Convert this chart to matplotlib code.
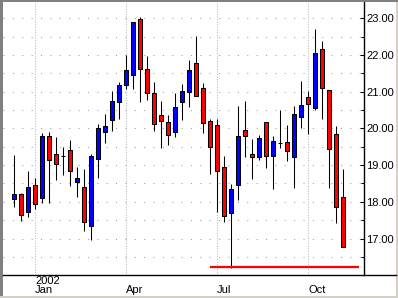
import matplotlib
matplotlib.use("Agg")
import matplotlib.pyplot as plt
from matplotlib.lines import Line2D
from matplotlib.patches import Rectangle
import numpy as np

# weekly prices, 2002
opens = [18.08, 18.20, 17.73, 18.45, 18.11, 19.78, 19.29, 19.24, 19.40, 18.53,
         18.39, 17.35, 19.17, 19.89, 20.24, 20.73, 21.19, 21.44, 22.97, 21.61,
         20.95, 20.35, 20.16, 19.89, 20.71, 20.98, 21.77, 21.09, 20.19, 20.08,
         18.96, 17.70, 18.45, 19.95, 19.29, 19.21, 20.16, 19.24, 19.61, 19.62,
         19.21, 20.30, 20.85, 20.55, 22.15, 21.04, 19.84, 18.12]
highs = [19.27, 18.23, 18.85, 18.64, 19.86, 19.89, 19.76, 19.49, 19.68, 18.95,
         18.89, 19.29, 20.12, 20.39, 21.02, 21.26, 22.00, 22.90, 23.02, 21.97,
         21.25, 20.75, 20.35, 20.96, 21.21, 21.86, 22.52, 21.24, 20.26, 20.25,
         19.25, 18.49, 20.61, 20.75, 19.72, 19.82, 20.16, 19.79, 20.50, 20.09,
         20.61, 21.29, 21.02, 22.70, 22.37, 21.04, 20.06, 18.89]
lows = [17.86, 17.48, 17.59, 17.80, 17.98, 17.98, 18.58, 18.74, 18.44, 18.12,
        17.21, 16.96, 18.65, 19.61, 19.94, 20.26, 21.08, 21.08, 20.73, 20.78,
        19.94, 19.47, 19.55, 19.77, 20.24, 20.59, 20.87, 19.88, 18.76, 17.72,
        17.45, 16.21, 18.05, 19.23, 18.63, 19.13, 18.93, 18.35, 19.47, 19.12,
        18.38, 20.00, 19.85, 20.49, 20.25, 18.38, 17.43, 16.78]
closes = [18.20, 17.65, 18.39, 17.93, 19.78, 19.13, 19.02, 19.24, 18.85, 18.64,
          17.44, 19.24, 20.00, 20.05, 20.74, 21.17, 21.58, 22.89, 21.61, 20.95,
          20.11, 20.19, 19.81, 20.57, 21.02, 21.58, 20.87, 20.14, 19.48, 18.85,
          17.62, 18.34, 19.78, 19.78, 19.21, 19.73, 19.24, 19.65, 19.61, 19.37,
          20.38, 20.63, 20.65, 22.05, 21.09, 19.45, 17.85, 16.78]

quarter_weeks = [3, 16, 29, 42]
quarter_labels = ["2002\nJan", "\nApr", "\nJul", "\nOct"]

support_level = 16.23
support_weeks = [28, 49.2]

plt.rcParams['font.family'] = ['Liberation Sans', 'DejaVu Sans']

W, H = 398, 298
fig = plt.figure(figsize=(W / 100, H / 100), dpi=100)
ax = fig.add_axes([3 / W, 23.5 / H, 361.3 / W, 272.5 / H])

x = np.arange(len(opens))
o = np.array(opens)
c = np.array(closes)
up = c >= o
colors = np.where(up, "#0000ff", "#ff0000")

ax.vlines(x, lows, highs, color="black", linewidth=0.75, zorder=3)
body_h = np.abs(c - o)
body_h = np.where(body_h < 0.01, 0.0, body_h)
ax.bar(x, body_h, bottom=np.minimum(o, c), width=0.62, color=colors,
       edgecolor="black", linewidth=0.75, zorder=4)

ax.hlines(support_level, support_weeks[0], support_weeks[1],
          color="#ff0000", linewidth=1.6, zorder=5)

ax.set_xlim(-1.6, 50.0)
ax.set_ylim(16.02, 23.44)

# grid
for lvl in np.arange(16.5, 23.01, 0.5):
    ax.axhline(lvl, color="#a0a0a0", linewidth=0.75,
               linestyle=(0, (1, 8)), zorder=1)
for q in quarter_weeks:
    ax.axvline(q, color="#b8b8b8", linewidth=0.75,
               linestyle=(0, (1, 1.5)), zorder=1)

ax.yaxis.tick_right()
ax.set_yticks(np.arange(17, 23.01, 1.0))
ax.set_yticks(np.arange(16.5, 23.01, 1.0), minor=True)
ax.yaxis.set_major_formatter(matplotlib.ticker.FormatStrFormatter("%.2f"))
ax.tick_params(axis="y", which="major", direction="in", length=3,
               width=0.75, pad=1.5, labelsize=8, labelcolor="black")
ax.tick_params(axis="y", which="minor", direction="in", length=2, width=0.75)

ax.set_xticks(quarter_weeks, quarter_labels)
ax.tick_params(axis="x", length=0, pad=1.0, labelsize=8)
for lbl in ax.get_xticklabels():
    lbl.set_ha("left")
    lbl.set_linespacing(0.85)

for s in ["left", "top", "bottom"]:
    ax.spines[s].set_visible(False)
ax.spines["right"].set_linewidth(1.0)

# bottom axis line runs the full width, frame round the panel
fig.add_artist(Line2D([3 / W, 396 / W], [23.5 / H, 23.5 / H],
                      color="black", linewidth=1.0, transform=fig.transFigure))
fig.add_artist(Rectangle((0, 0), 2.5 / W, 1, color="#808080",
                         transform=fig.transFigure, linewidth=0))
fig.add_artist(Rectangle((0, 1 - 2 / H), 1, 2 / H, color="#808080",
                         transform=fig.transFigure, linewidth=0))
fig.add_artist(Rectangle((1 - 2 / W, 0), 2 / W, 1 - 2 / H, color="#d4d0c8",
                         transform=fig.transFigure, linewidth=0))
fig.add_artist(Rectangle((0, 0), 1, 2 / H, color="#d4d0c8",
                         transform=fig.transFigure, linewidth=0))

fig.savefig("out.png", dpi=100)
